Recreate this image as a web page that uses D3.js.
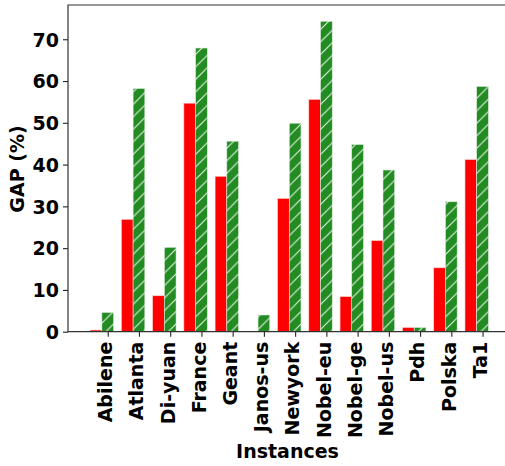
<!DOCTYPE html>
<html>
<head>
<meta charset="utf-8">
<script src="https://cdn.jsdelivr.net/npm/d3@7"></script>
<style>
  html, body { margin: 0; padding: 0; background: #fff; }
  svg { display: block; }
  text { font-family: "DejaVu Sans", sans-serif; font-weight: bold; fill: #000; }
</style>
</head>
<body>
<svg id="chart" width="505" height="466"></svg>
<script>
// Instances and their GAP (%) for the two compared methods
const instances = ["Abilene", "Atlanta", "Di-yuan", "France", "Geant", "Janos-us", "Newyork",
                   "Nobel-eu", "Nobel-ge", "Nobel-us", "Pdh", "Polska", "Ta1"];
const gapRed   = [0.4, 26.9, 8.6, 54.7, 37.2, 0.0, 31.9, 55.6, 8.4, 21.8, 1.0, 15.3, 41.2];
const gapGreen = [4.6, 58.2, 20.2, 67.9, 45.6, 4.0, 49.9, 74.3, 44.8, 38.7, 1.0, 31.1, 58.7];
const yTicks   = [0, 10, 20, 30, 40, 50, 60, 70];

const svg = d3.select("#chart");
const plotL = 68, plotR = 508, plotT = 5, plotB = 331.7;
const barW = 0.375;

const x = d3.scaleLinear().domain([-1.272, 12.815]).range([plotL, plotR]);
const y = d3.scaleLinear().domain([0, 78.2]).range([plotB, plotT]);

// diagonal hatch for the green series
const defs = svg.append("defs");
const pat = defs.append("pattern")
  .attr("id", "hatch")
  .attr("patternUnits", "userSpaceOnUse")
  .attr("width", 12.5).attr("height", 12.5);
pat.append("rect").attr("width", 12.5).attr("height", 12.5).attr("fill", "#228B22");
pat.append("path")
  .attr("d", "M-3,15.5 L15.5,-3 M-3,3 L3,-3 M9.5,15.5 L15.5,9.5")
  .attr("stroke", "#e6f2e6").attr("stroke-width", 1.1);

const g = svg.append("g");

// red bars (left of each tick)
g.selectAll("rect.red").data(gapRed).join("rect")
  .attr("class", "red")
  .attr("x", (d, i) => x(i - 1.5 * barW))
  .attr("width", x(barW) - x(0))
  .attr("y", d => y(d))
  .attr("height", d => y(0) - y(d))
  .attr("fill", "#ff0000")
  .attr("stroke", "#ffd0d0").attr("stroke-width", 0.6);

// green hatched bars (centred on each tick)
g.selectAll("rect.green").data(gapGreen).join("rect")
  .attr("class", "green")
  .attr("x", (d, i) => x(i - 0.5 * barW))
  .attr("width", x(barW) - x(0))
  .attr("y", d => y(d))
  .attr("height", d => y(0) - y(d))
  .attr("fill", "url(#hatch)")
  .attr("stroke", "#d8ead8").attr("stroke-width", 0.6);

// y axis
const yAxis = d3.axisLeft(y).tickValues(yTicks).tickSize(5).tickPadding(4);
const ya = svg.append("g").attr("transform", `translate(${plotL},0)`).call(yAxis);
ya.select(".domain").remove();
ya.selectAll(".tick line").attr("stroke", "#222").attr("stroke-width", 1.1);
ya.selectAll(".tick text").attr("font-size", 19).attr("font-family", "DejaVu Sans")
  .attr("font-weight", "bold").attr("dy", "0.36em");

// x axis
const xAxis = d3.axisBottom(x).tickValues(d3.range(instances.length))
  .tickFormat(i => instances[i]).tickSize(5).tickPadding(4);
const xa = svg.append("g").attr("transform", `translate(0,${plotB})`).call(xAxis);
xa.select(".domain").remove();
xa.selectAll(".tick line").attr("stroke", "#222").attr("stroke-width", 1.1);
xa.selectAll(".tick text")
  .attr("font-size", 19).attr("font-family", "DejaVu Sans").attr("font-weight", "bold")
  .attr("text-anchor", "end")
  .attr("transform", "translate(0,10) rotate(-90)")
  .attr("x", 0).attr("y", 0).attr("dy", "0.2em");

// spines: left, top, bottom
svg.append("path")
  .attr("d", `M${plotR},${plotT} L${plotL},${plotT} L${plotL},${plotB} L${plotR},${plotB}`)
  .attr("fill", "none").attr("stroke", "#333").attr("stroke-width", 1.2);

// axis titles
svg.append("text").attr("x", 287.5).attr("y", 458)
  .attr("text-anchor", "middle").attr("font-size", 19).text("Instances");
svg.append("text")
  .attr("transform", `translate(24,${169}) rotate(-90)`)
  .attr("text-anchor", "middle").attr("font-size", 19).text("GAP (%)");
</script>
</body>
</html>
